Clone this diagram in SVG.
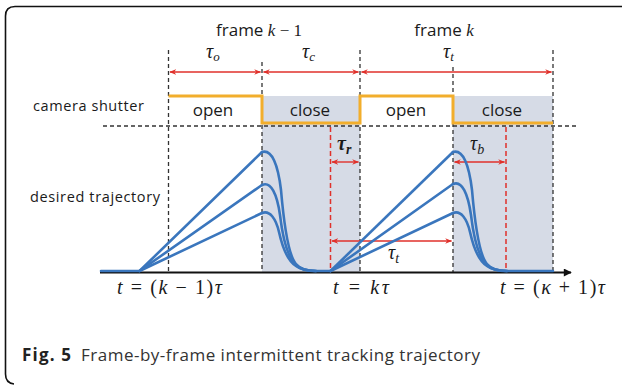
<svg xmlns="http://www.w3.org/2000/svg" width="622" height="385" viewBox="0 0 622 385">
<defs>
<style>
.sans{font-family:"Open Sans","DejaVu Sans",sans-serif;fill:#1a1a1a}
.math{font-family:"Liberation Serif","DejaVu Serif",serif;fill:#1a1a1a}
.it{font-style:italic}
.vdash{stroke:#333;stroke-width:1.3;stroke-dasharray:4,3;fill:none}
.rdash{stroke:#e0312b;stroke-width:1.5;stroke-dasharray:5,3;fill:none}
.rarrow{stroke:#e0312b;stroke-width:1.4;fill:none;marker-start:url(#ah);marker-end:url(#ah)}
.traj{stroke:#3a76bd;stroke-width:2.6;fill:none;stroke-linejoin:round;stroke-linecap:round}
.shade{fill:#d6dbe6}
</style>
<marker id="ah" viewBox="0 0 10 10" refX="9" refY="5" markerWidth="7" markerHeight="7" orient="auto-start-reverse" markerUnits="userSpaceOnUse">
<path d="M0,1 L10,5 L0,9 L3,5 z" fill="#e0312b"/>
</marker>
<marker id="axarrow" viewBox="0 0 10 10" refX="9" refY="5" markerWidth="10" markerHeight="8" orient="auto" markerUnits="userSpaceOnUse">
<path d="M0,0 L10,5 L0,10 z" fill="#111"/>
</marker>
</defs>
<rect width="622" height="385" fill="#fff"/>
<!-- frame border -->
<path d="M622,6.5 H15 Q5.5,6.5 5.5,16 V374 Q5.5,383 14,384" fill="none" stroke="#111" stroke-width="1.6"/>

<!-- shaded close regions -->
<g id="shade">
<rect class="shade" x="262" y="96" width="98" height="176"/>
<rect class="shade" x="453" y="96" width="100" height="176"/>
</g>

<g id="labels">
<text class="sans" x="259" y="36" font-size="17" text-anchor="middle">frame <tspan class="math it">k</tspan><tspan class="math"> − 1</tspan></text>
<text class="sans" x="444" y="36" font-size="17" text-anchor="middle">frame <tspan class="math it">k</tspan></text>
<text class="math it" x="206" y="58" font-size="20">τ<tspan font-size="13" dy="3">o</tspan></text>
<text class="math it" x="302" y="58" font-size="20">τ<tspan font-size="13" dy="3">c</tspan></text>
<text class="math it" x="443" y="58" font-size="20">τ<tspan font-size="13" dy="3">t</tspan></text>
<text class="sans" x="33" y="111" font-size="14.5" textLength="111">camera shutter</text>
<text class="sans" x="30" y="202" font-size="14.5" textLength="130">desired trajectory</text>
<text class="sans" x="213" y="116" font-size="17" text-anchor="middle">open</text>
<text class="sans" x="310" y="116" font-size="17" text-anchor="middle">close</text>
<text class="sans" x="406" y="116" font-size="17" text-anchor="middle">open</text>
<text class="sans" x="502" y="116" font-size="17" text-anchor="middle">close</text>
<text class="math it" x="337" y="150" font-size="20" font-weight="bold">τ<tspan font-size="14" dy="4">r</tspan></text>
<text class="math it" x="470" y="150" font-size="20">τ<tspan font-size="14" dy="4">b</tspan></text>
<text class="math it" x="388" y="259" font-size="20">τ<tspan font-size="14" dy="4">t</tspan></text>
<text class="math" x="117" y="294" font-size="20" textLength="105"><tspan class="it">t</tspan> = (<tspan class="it">k</tspan> − 1)<tspan class="it">τ</tspan></text>
<text class="math" x="333" y="294" font-size="20" textLength="56"><tspan class="it">t</tspan> = <tspan class="it">kτ</tspan></text>
<text class="math" x="500" y="294" font-size="20" textLength="105"><tspan class="it">t</tspan> = (<tspan class="it">κ</tspan> + 1)<tspan class="it">τ</tspan></text>
</g>

<g id="connectors">
<!-- vertical dashed guides -->
<line class="vdash" x1="168.5" y1="50" x2="168.5" y2="272"/>
<line class="vdash" x1="262" y1="62" x2="262" y2="272"/>
<line class="vdash" x1="360" y1="50" x2="360" y2="272"/>
<line class="vdash" x1="453" y1="67" x2="453" y2="272"/>
<line class="vdash" x1="553" y1="50" x2="553" y2="272"/>
<!-- horizontal dashed -->
<line class="vdash" x1="103" y1="126" x2="578" y2="126"/>
<!-- red dashed -->
<line class="rdash" x1="330.5" y1="127" x2="330.5" y2="272"/>
<line class="rdash" x1="506" y1="127" x2="506" y2="272"/>
<!-- red arrows -->
<line class="rarrow" x1="170" y1="72" x2="260.5" y2="72"/>
<line class="rarrow" x1="263.5" y1="72" x2="358.5" y2="72"/>
<line class="rarrow" x1="361.5" y1="72" x2="551.5" y2="72"/>
<line class="rarrow" x1="332" y1="162" x2="358.5" y2="162"/>
<line class="rarrow" x1="454.5" y1="162" x2="504.5" y2="162"/>
<line class="rarrow" x1="332" y1="241" x2="451.5" y2="241"/>
<!-- shutter signal -->
<path d="M168.5,96 H262 V123 H360 V96 H453 V123 H553" fill="none" stroke="#f2ae2c" stroke-width="3"/>
</g>

<g id="trajectory">
<line x1="100" y1="272.5" x2="571" y2="272.5" stroke="#111" stroke-width="2.2" marker-end="url(#axarrow)"/>
<path class="traj" d="M101,271 H139.5 L262,152"/>
<path class="traj" d="M139.5,271 L262,185"/>
<path class="traj" d="M139.5,271 L262,213"/>
<path class="traj" d="M262,152 C272,149 278,165 281,190 C284,225 288,255 296,264 C300,269 306,271 316,271 H330.5"/>
<path class="traj" d="M262,185 C271,181 277,194 280,215 C283,240 288,258 296,265 C300,269 306,271 316,271"/>
<path class="traj" d="M262,213 C270,210 276,219 279,232 C283,250 288,261 296,266 C300,269 306,271 316,271"/>
<path class="traj" d="M330.5,271 L453,152"/>
<path class="traj" d="M330.5,271 L453,184"/>
<path class="traj" d="M330.5,271 L453,213"/>
<path class="traj" d="M453,152 C463,149 469,165 472,190 C475,225 479,255 487,264 C491,269 497,271 507,271 H553"/>
<path class="traj" d="M453,184 C462,180 468,194 471,215 C474,240 479,258 487,265 C491,269 497,271 507,271"/>
<path class="traj" d="M453,213 C461,210 467,219 470,232 C474,250 479,261 487,266 C491,269 497,271 507,271"/>
</g>

<g id="caption">
<text x="22" y="361" font-family="'Open Sans','DejaVu Sans',sans-serif" font-size="17" fill="#222"><tspan font-weight="bold" textLength="49">Fig. 5</tspan><tspan x="81" fill="#333" textLength="399">Frame-by-frame intermittent tracking trajectory</tspan></text>
</g>
</svg>
